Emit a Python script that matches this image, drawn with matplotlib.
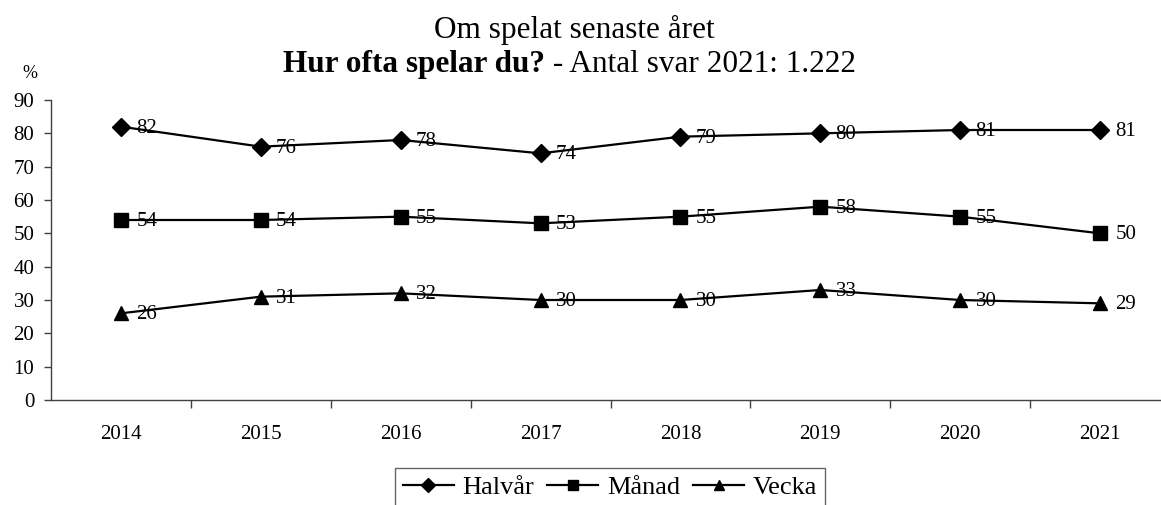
import matplotlib.pyplot as plt
from matplotlib.ticker import FixedLocator

plt.rcParams['font.family'] = ['Liberation Serif', 'DejaVu Serif']

years = ['2014', '2015', '2016', '2017', '2018', '2019', '2020', '2021']
halvar = [82, 76, 78, 74, 79, 80, 81, 81]
manad = [54, 54, 55, 53, 55, 58, 55, 50]
vecka = [26, 31, 32, 30, 30, 33, 30, 29]

series = [('Halvår', halvar, 'D', 9.5), ('Månad', manad, 's', 9.5), ('Vecka', vecka, '^', 10.5)]

W, H = 1161, 505
fig = plt.figure(figsize=(W / 100, H / 100), dpi=100)
ax = fig.add_axes([51 / W, 1 - 400 / H, (1170 - 51) / W, 300 / H])

x = list(range(len(years)))
for name, vals, mk, ms in series:
    ax.plot(x, vals, color='black', linewidth=1.6, marker=mk, markersize=ms, label=name)
    for xi, v in zip(x, vals):
        ax.annotate(str(v), (xi, v), xytext=(11, -1), textcoords='offset points',
                    ha='left', va='center', fontsize=15)

ax.set_xlim(-0.5, len(years) - 0.5)
ax.set_ylim(0, 90)
ax.set_yticks(range(0, 91, 10))
ax.tick_params(axis='y', labelsize=15, length=5, width=1, color='#404040', pad=7)
ax.set_xticks(x)
ax.set_xticklabels(years)
ax.tick_params(axis='x', which='major', length=0, labelsize=15, pad=18)
ax.xaxis.set_minor_locator(FixedLocator([i + 0.5 for i in range(len(years) - 1)]))
ax.tick_params(axis='x', which='minor', length=6, width=1, color='#404040')
for s in ['top', 'right']:
    ax.spines[s].set_visible(False)
for s in ['left', 'bottom']:
    ax.spines[s].set_color('#404040')
    ax.spines[s].set_linewidth(1)

fig.text(574 / W, 1 - 38 / H, 'Om spelat senaste året', ha='center', va='baseline', fontsize=22.5)
t1 = fig.text(283 / W, 1 - 72 / H, 'Hur ofta spelar du?', ha='left', va='baseline',
              fontsize=22.5, fontweight='bold')
fig.canvas.draw()
bb = t1.get_window_extent()
fig.text(bb.x1 / W, 1 - 72 / H, ' - Antal svar 2021: 1.222', ha='left', va='baseline', fontsize=22.5)
fig.text(30 / W, 1 - 73 / H, '%', ha='center', va='center', fontsize=13)

leg = fig.legend(loc='upper center', bbox_to_anchor=(610 / W, 1 - 468 / H), ncol=3,
                 fontsize=19, frameon=True, fancybox=False, edgecolor='#404040',
                 handlelength=1.93, handletextpad=0.34, columnspacing=0.49,
                 borderpad=0.3, borderaxespad=0, markerscale=0.75)
leg.get_frame().set_linewidth(1)

fig.savefig('out.png', dpi=100)
